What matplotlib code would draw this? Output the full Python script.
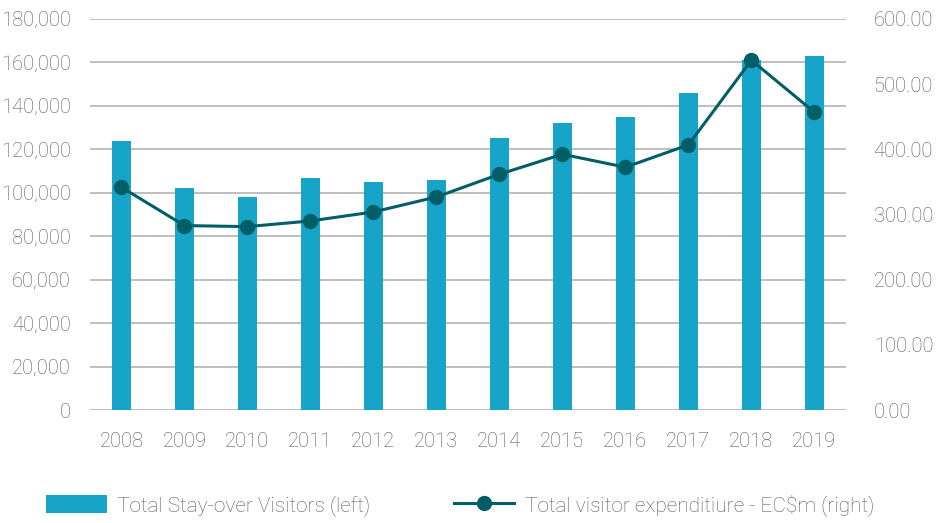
import matplotlib.pyplot as plt
import numpy as np

# data
years = ['2008', '2009', '2010', '2011', '2012', '2013',
         '2014', '2015', '2016', '2017', '2018', '2019']
visitors = [123700, 102200, 98200, 106700, 105100, 105700,
            125100, 132100, 135000, 145900, 161000, 162700]
expenditure = [341.7, 282.9, 281.3, 290.0, 303.8, 326.8,
               361.6, 392.3, 372.4, 406.6, 536.6, 456.8]

plt.rcParams['font.family'] = ['Roboto', 'DejaVu Sans']
plt.rcParams['font.weight'] = 'light'
text_col = '#595959'
bar_col = '#17A4C9'
line_col = '#005F66'

fig = plt.figure(figsize=(9.39, 5.23), dpi=100)
ax = fig.add_axes([0.0958, 0.216, 0.805, 0.748])
ax2 = ax.twinx()

x = np.arange(len(years))
ax.bar(x, visitors, width=0.31, color=bar_col, zorder=3,
       label='Total Stay-over Visitors (left)')
ax2.plot(x, expenditure, color=line_col, lw=2.2, marker='o', ms=10,
         zorder=4, label='Total visitor expenditiure - EC$m (right)')

ax.set_xlim(-0.5, len(years) - 0.5)
ax.set_ylim(0, 180000)
ax.set_yticks(range(0, 180001, 20000))
ax.set_yticklabels([f'{v:,}' for v in range(0, 180001, 20000)])
ax2.set_ylim(0, 600)
ax2.set_yticks(range(0, 601, 100))
ax2.set_yticklabels([f'{v:.2f}' for v in range(0, 601, 100)])
ax.set_xticks(x)
ax.set_xticklabels(years)

ax.grid(axis='y', color='#b3b3b3', lw=1.2, zorder=0)
for a in (ax, ax2):
    for s in a.spines.values():
        s.set_visible(False)
    a.tick_params(length=0, labelsize=14.5, colors=text_col)
ax.tick_params(axis='y', pad=14)
ax.tick_params(axis='x', pad=16)
ax2.tick_params(axis='y', pad=20)

h1, l1 = ax.get_legend_handles_labels()
h2, l2 = ax2.get_legend_handles_labels()
leg = fig.legend(h1 + h2, l1 + l2, loc='lower center', ncol=2,
                 bbox_to_anchor=(0.49, -0.022), frameon=False, fontsize=15,
                 handlelength=2.9, handleheight=1.0, columnspacing=4.0,
                 handletextpad=0.5)
for t in leg.get_texts():
    t.set_color(text_col)

fig.savefig('out.png', dpi=100)
